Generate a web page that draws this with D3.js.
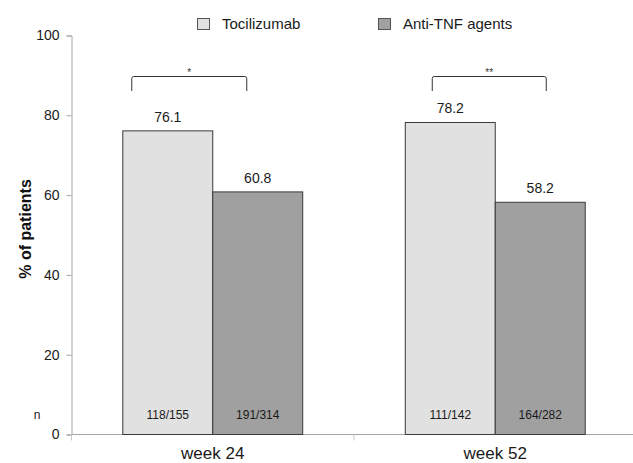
<!DOCTYPE html>
<html>
<head>
<meta charset="utf-8">
<script src="https://cdn.jsdelivr.net/npm/d3@7"></script>
<style>
  html, body { margin: 0; padding: 0; background: #fff; }
  svg { display: block; font-family: "Liberation Sans", Arial, sans-serif; }
</style>
</head>
<body>
<svg id="chart" width="633" height="463"></svg>
<script>
// Response rates (% of patients) by visit and treatment group
const categories = ["week 24", "week 52"];
const seriesNames = ["Tocilizumab", "Anti-TNF agents"];
const tocilizumab = [76.1, 78.2];
const antiTnf = [60.8, 58.2];
const tocilizumabN = ["118/155", "111/142"];
const antiTnfN = ["191/314", "164/282"];
const yTicks = [0, 20, 40, 60, 80, 100];
const significance = ["*", "**"];

const fills = ["#e1e1e1", "#a0a0a0"];

const rows = categories.map((c, i) => ({
  category: c,
  values: [
    { series: seriesNames[0], value: tocilizumab[i], n: tocilizumabN[i] },
    { series: seriesNames[1], value: antiTnf[i], n: antiTnfN[i] }
  ],
  sig: significance[i]
}));

const svg = d3.select("#chart");

const x0 = d3.scaleBand().domain(categories).range([71.5, 636.5]).padding(0);
const x1 = d3.scaleBand().domain(seriesNames).range([0, x0.bandwidth()])
  .paddingInner(0).paddingOuter(0.57);
const y = d3.scaleLinear().domain([0, 100]).range([434.5, 35.5]);
const color = d3.scaleOrdinal().domain(seriesNames).range(fills);

// y axis
const yAxis = svg.append("g")
  .attr("transform", "translate(71.5,0)")
  .call(d3.axisLeft(y).tickValues(yTicks).tickSize(5).tickPadding(7).tickFormat(d3.format("d")));
yAxis.select(".domain").attr("stroke", "#a6a6a6");
yAxis.selectAll(".tick line").attr("stroke", "#a6a6a6");
yAxis.selectAll(".tick text").attr("fill", "#1a1a1a").style("font-size", "14px");

// x axis (ticks at category boundaries)
const xAxis = svg.append("g").attr("transform", "translate(0,434.5)");
xAxis.append("line")
  .attr("x1", x0.range()[0]).attr("x2", x0.range()[1])
  .attr("stroke", "#a6a6a6");
xAxis.selectAll("line.bound")
  .data(categories)
  .join("line")
  .attr("class", "bound")
  .attr("x1", d => x0(d))
  .attr("x2", d => x0(d))
  .attr("y1", 0).attr("y2", 6)
  .attr("stroke", "#c8c8c8");
xAxis.selectAll("text.cat")
  .data(categories)
  .join("text")
  .attr("class", "cat")
  .attr("x", d => x0(d) + x0.bandwidth() / 2)
  .attr("y", 24)
  .attr("text-anchor", "middle")
  .attr("fill", "#1a1a1a")
  .style("font-size", "17px")
  .text(d => d);

// bars
const groups = svg.selectAll("g.group")
  .data(rows)
  .join("g")
  .attr("class", "group")
  .attr("transform", d => `translate(${x0(d.category)},0)`);

groups.selectAll("rect")
  .data(d => d.values)
  .join("rect")
  .attr("x", d => x1(d.series))
  .attr("y", d => y(d.value))
  .attr("width", x1.bandwidth())
  .attr("height", d => y(0) - y(d.value))
  .attr("fill", d => color(d.series))
  .attr("stroke", "#3a3a3a")
  .attr("stroke-width", 1);

// value labels
groups.selectAll("text.val")
  .data(d => d.values)
  .join("text")
  .attr("class", "val")
  .attr("x", d => x1(d.series) + x1.bandwidth() / 2)
  .attr("y", d => y(d.value) - 9)
  .attr("text-anchor", "middle")
  .attr("fill", "#1a1a1a")
  .style("font-size", "14px")
  .text(d => d.value.toFixed(1));

// patient counts inside bars
groups.selectAll("text.n")
  .data(d => d.values)
  .join("text")
  .attr("class", "n")
  .attr("x", d => x1(d.series) + x1.bandwidth() / 2)
  .attr("y", 419)
  .attr("text-anchor", "middle")
  .attr("fill", "#1a1a1a")
  .style("font-size", "12px")
  .text(d => d.n);

svg.append("text")
  .attr("x", 37).attr("y", 419)
  .attr("text-anchor", "middle")
  .attr("fill", "#1a1a1a")
  .style("font-size", "12px")
  .text("n");

// significance brackets (offsets from each group's centre)
const bracketSpan = [[-81, 34], [-63, 51]];
const bracketTop = 76.5, bracketFoot = 91;
groups.each(function (d, i) {
  const g = d3.select(this);
  const c = x0.bandwidth() / 2;
  const [l, r] = bracketSpan[i];
  const path = d3.path();
  path.moveTo(c + l, bracketFoot);
  path.lineTo(c + l, bracketTop + 2);
  path.quadraticCurveTo(c + l, bracketTop, c + l + 2, bracketTop);
  path.lineTo(c + r - 2, bracketTop);
  path.quadraticCurveTo(c + r, bracketTop, c + r, bracketTop + 2);
  path.lineTo(c + r, bracketFoot);
  g.append("path")
    .attr("d", path.toString())
    .attr("fill", "none")
    .attr("stroke", "#333")
    .attr("stroke-width", 1);
  g.append("text")
    .attr("x", c + (l + r) / 2)
    .attr("y", bracketTop - 1)
    .attr("text-anchor", "middle")
    .attr("fill", "#333")
    .style("font-size", "10px")
    .text(d.sig);
});

// y axis title
svg.append("text")
  .attr("transform", "translate(31,229) rotate(-90)")
  .attr("text-anchor", "middle")
  .attr("fill", "#111")
  .style("font-size", "16px")
  .style("font-weight", "bold")
  .text("% of patients");

// legend
const legendX = [197, 378];
const legend = svg.selectAll("g.legend")
  .data(seriesNames)
  .join("g")
  .attr("class", "legend")
  .attr("transform", (d, i) => `translate(${legendX[i]},18)`);
legend.append("rect")
  .attr("x", 0.5).attr("y", 0.5)
  .attr("width", 12).attr("height", 11)
  .attr("fill", d => color(d))
  .attr("stroke", "#555");
legend.append("text")
  .attr("x", 25).attr("y", 11)
  .attr("fill", "#1a1a1a")
  .style("font-size", "15px")
  .text(d => d);
</script>
</body>
</html>
